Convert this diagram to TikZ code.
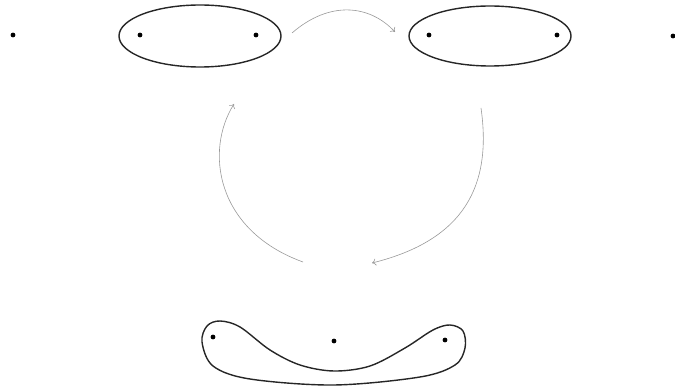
\documentclass[tikz,border=0pt]{standalone}
\usetikzlibrary{shapes.geometric,arrows.meta}
\begin{document}
\begin{tikzpicture}[x=1pt,y=-1pt,
  dot/.style={circle,fill=black,inner sep=0pt,minimum size=4.8pt},
  blob/.style={draw=black!85,line width=1.4pt},
  oval/.style={ellipse,draw=black!85,line width=1.4pt,inner sep=0pt},
  flow/.style={draw=black!40,line width=0.6pt,-{To[length=4pt,width=7pt]}}]
\useasboundingbox (0,0) rectangle (675,390);
% top row
\node[dot] (p0) at (13,35) {};
\node[oval,minimum width=162pt,minimum height=62pt] (e1) at (200,36) {};
\node[dot] (p1) at (140,35) {};
\node[dot] (p2) at (256,35) {};
\node[oval,minimum width=162pt,minimum height=60pt] (e2) at (490,36) {};
\node[dot] (p3) at (429,35) {};
\node[dot] (p4) at (557,35) {};
\node[dot] (p5) at (673,36) {};
% bottom shape
\draw[blob] plot[smooth cycle,tension=0.55] coordinates {(202,342) (207,326) (220,321) (240,327) (270,350) (300,365) (334,371) (370,366) (405,348) (433,330) (450,325) (463,331) (465,348) (455,365) (420,377) (334,385) (250,379) (213,366)};
\node[dot] (q1) at (213,337) {};
\node[dot] (q2) at (334,341) {};
\node[dot] (q3) at (445,340) {};
% arrow endpoints
\coordinate (a1) at (292,33);
\coordinate (a2) at (395,32);
\coordinate (b1) at (481,108);
\coordinate (b2) at (372,263);
\coordinate (c1) at (303,262);
\coordinate (c2) at (234,104);
\draw[flow] (a1) .. controls (330,0) and (370,5) .. (a2);
\draw[flow] (b1) .. controls (492,185) and (465,240) .. (b2);
\draw[flow] (c1) .. controls (215,230) and (205,150) .. (c2);
\end{tikzpicture}
\end{document}
